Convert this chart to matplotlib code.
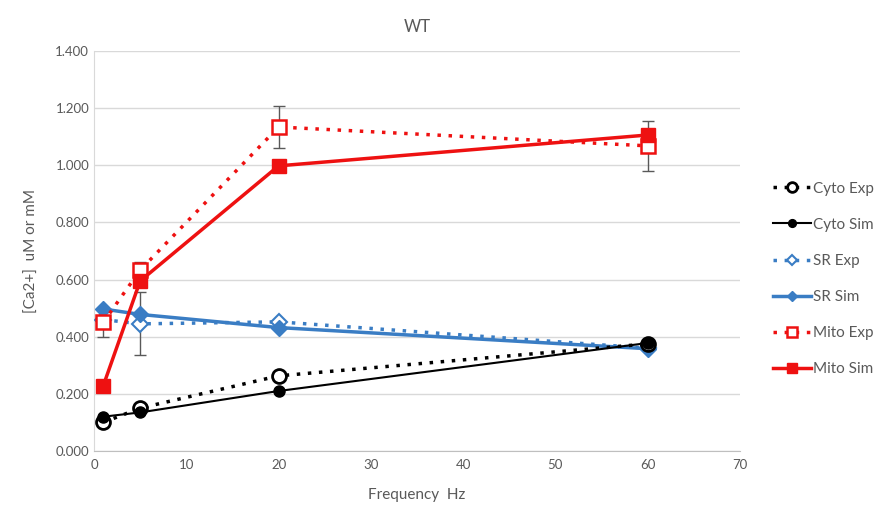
import matplotlib.pyplot as plt
from matplotlib.ticker import FormatStrFormatter

plt.rcParams['font.family'] = ['Lato', 'DejaVu Sans']

freq = [1, 5, 20, 60]
cyto_exp = [0.100, 0.150, 0.263, 0.375]
cyto_sim = [0.120, 0.135, 0.210, 0.378]
sr_exp = [0.460, 0.445, 0.452, 0.360]
sr_exp_err = [0.0, 0.110, 0.0, 0.0]
sr_sim = [0.497, 0.478, 0.432, 0.358]
mito_exp = [0.450, 0.633, 1.134, 1.068]
mito_exp_err = [0.050, 0.030, 0.075, 0.088]
mito_sim = [0.228, 0.595, 0.998, 1.106]

blue = '#3a7dc4'
red = '#ee1111'
grey = '#595959'

fig = plt.figure(figsize=(8.9, 5.08), dpi=100)
ax = fig.add_axes([94 / 890, 57 / 508, 646 / 890, 400 / 508])

ax.errorbar(freq, mito_exp, yerr=mito_exp_err, fmt='none', ecolor=grey, elinewidth=1, capsize=4, zorder=2)
ax.errorbar(freq, sr_exp, yerr=sr_exp_err, fmt='none', ecolor=grey, elinewidth=1, capsize=4, zorder=2)

ax.plot(freq, cyto_exp, color='black', ls=(0, (1, 2.2)), lw=2.5, marker='o', ms=10,
        mfc='white', mew=2, label='Cyto Exp', zorder=4)
ax.plot(freq, cyto_sim, color='black', lw=1.5, marker='o', ms=8, label='Cyto Sim', zorder=4)
ax.plot(freq, sr_exp, color=blue, ls=(0, (1, 2.2)), lw=2.5, marker='D', ms=8,
        mfc='white', mew=1.5, label='SR Exp', zorder=3)
ax.plot(freq, sr_sim, color=blue, lw=2.5, marker='D', ms=8, label='SR Sim', zorder=3)
ax.plot(freq, mito_exp, color=red, ls=(0, (1, 2.2)), lw=2.5, marker='s', ms=10,
        mfc='white', mew=1.8, label='Mito Exp', zorder=3)
ax.plot(freq, mito_sim, color=red, lw=2.5, marker='s', ms=10, label='Mito Sim', zorder=3)

ax.set_xlim(0, 70)
ax.set_ylim(0, 1.4)
ax.set_xticks(range(0, 71, 10))
ax.set_yticks([i * 0.2 for i in range(8)])
ax.yaxis.set_major_formatter(FormatStrFormatter('%.3f'))
ax.grid(axis='y', color='#d9d9d9', lw=1)
ax.set_axisbelow(True)
for s in ['top', 'right']:
    ax.spines[s].set_visible(False)
ax.spines['left'].set_color('#d9d9d9')
ax.spines['bottom'].set_color('#bfbfbf')
ax.tick_params(colors=grey, labelsize=9.5, length=0)
ax.tick_params(axis='x', pad=6)

ax.set_xlabel('Frequency  Hz', color=grey, fontsize=11, labelpad=12)
ax.set_ylabel('[Ca2+]  uM or mM', color=grey, fontsize=11, labelpad=12)
ax.set_title('WT', color=grey, fontsize=12, pad=14)

leg = ax.legend(loc='center left', bbox_to_anchor=(1.03, 0.43), frameon=False,
                fontsize=11, handlelength=2.5, labelspacing=1.45, handletextpad=0.1,
                markerscale=0.7)
for t in leg.get_texts():
    t.set_color(grey)

fig.savefig('out.png')
